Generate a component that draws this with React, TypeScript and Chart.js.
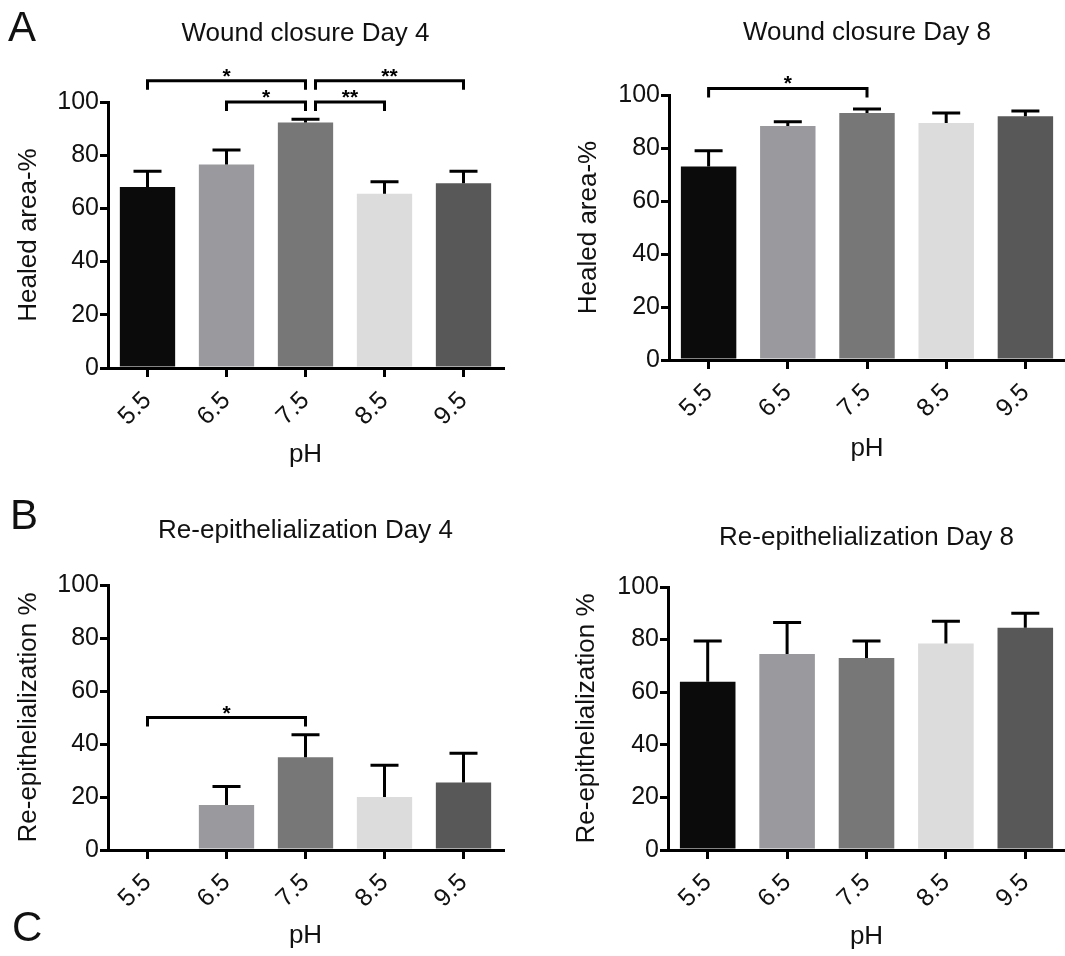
import React, { useEffect, useRef } from "react";
import { Chart, registerables } from "chart.js";

Chart.register(...registerables);

// ---------- data ----------
const categories = ["5.5", "6.5", "7.5", "8.5", "9.5"];
const yTicks = [0, 20, 40, 60, 80, 100];
const barColors = ["#0b0b0b", "#9a9a9e", "#777777", "#dcdcdc", "#585858"];

const woundDay4Mean = [68, 76.5, 92.3, 65.5, 69.5];
const woundDay4Sem = [6, 5.5, 1.2, 4.5, 4.5];
const woundDay8Mean = [73, 88.3, 93.2, 89.4, 92];
const woundDay8Sem = [6, 1.6, 1.5, 3.8, 2];
const reepDay4Mean = [0, 17, 35, 20, 25.5];
const reepDay4Sem = [0, 7, 8.5, 12, 11];
const reepDay8Mean = [64, 74.5, 73, 78.5, 84.5];
const reepDay8Sem = [15.5, 12, 6.5, 8.5, 5.5];

const woundDay4Sig = [
  { from: 0, to: 2, level: 108, label: "*" },
  { from: 1, to: 2, level: 100, label: "*" },
  { from: 2, to: 3, level: 100, label: "**" },
  { from: 2, to: 4, level: 108, label: "**" },
];
const woundDay8Sig = [{ from: 0, to: 2, level: 102.5, label: "*" }];
const reepDay4Sig = [{ from: 0, to: 2, level: 50, label: "*" }];
const reepDay8Sig: { from: number; to: number; level: number; label: string }[] = [];

const panelLetters = [
  { text: "A", left: 8, top: 6 },
  { text: "B", left: 10, top: 494 },
  { text: "C", left: 12, top: 906 },
];

// ---------- layout ----------
const FONT = '"Liberation Sans", Arial, sans-serif';
const FS = 25;
const TFS = 26;
const LH = TFS * 1.2;

type Panel = {
  title: string;
  yTitle: string;
  mean: number[];
  sem: number[];
  sig: { from: number; to: number; level: number; label: string }[];
  box: { x: number; y: number; w: number; h: number };
  area: { left: number; top: number; right: number; bottom: number };
  titleY: number;
  yTitleX: number;
  xTitleY: number;
};

const panels: Panel[] = [
  {
    title: "Wound closure Day 4",
    yTitle: "Healed area-%",
    mean: woundDay4Mean,
    sem: woundDay4Sem,
    sig: woundDay4Sig,
    box: { x: 0, y: 0, w: 530, h: 478 },
    area: { left: 108, top: 102, right: 503, bottom: 368 },
    titleY: 34,
    yTitleX: 29,
    xTitleY: 455,
  },
  {
    title: "Wound closure Day 8",
    yTitle: "Healed area-%",
    mean: woundDay8Mean,
    sem: woundDay8Sem,
    sig: woundDay8Sig,
    box: { x: 530, y: 0, w: 535, h: 478 },
    area: { left: 669, top: 95, right: 1065, bottom: 360 },
    titleY: 33,
    yTitleX: 589,
    xTitleY: 449,
  },
  {
    title: "Re-epithelialization Day 4",
    yTitle: "Re-epithelialization %",
    mean: reepDay4Mean,
    sem: reepDay4Sem,
    sig: reepDay4Sig,
    box: { x: 0, y: 478, w: 530, h: 478 },
    area: { left: 108, top: 585, right: 503, bottom: 850 },
    titleY: 531,
    yTitleX: 29,
    xTitleY: 936,
  },
  {
    title: "Re-epithelialization Day 8",
    yTitle: "Re-epithelialization %",
    mean: reepDay8Mean,
    sem: reepDay8Sem,
    sig: reepDay8Sig,
    box: { x: 530, y: 478, w: 535, h: 478 },
    area: { left: 668, top: 587, right: 1065, bottom: 850 },
    titleY: 538,
    yTitleX: 587,
    xTitleY: 937,
  },
];

function makePlugin(p: Panel) {
  return {
    id: "annot",
    afterDraw(chart: any) {
      const { ctx, chartArea } = chart;
      const xs = chart.scales.x;
      const ys = chart.scales.y;
      ctx.save();
      // error bars (upper only)
      ctx.strokeStyle = "#000";
      ctx.lineWidth = 3;
      p.mean.forEach((m, i) => {
        const e = p.sem[i];
        if (!(e > 0)) return;
        const px = xs.getPixelForValue(i);
        const y0 = ys.getPixelForValue(m);
        const y1 = ys.getPixelForValue(m + e);
        ctx.beginPath();
        ctx.moveTo(px, y0);
        ctx.lineTo(px, y1);
        ctx.moveTo(px - 14, y1);
        ctx.lineTo(px + 14, y1);
        ctx.stroke();
      });
      // significance brackets
      ctx.lineWidth = 3;
      ctx.fillStyle = "#000";
      ctx.font = `bold 21px ${FONT}`;
      ctx.textAlign = "center";
      ctx.textBaseline = "alphabetic";
      p.sig.forEach((s) => {
        const shared = p.sig.some((o) => o !== s && o.to === s.from);
        const x1 = xs.getPixelForValue(s.from) + (shared ? 10 : 0);
        const x2 = xs.getPixelForValue(s.to);
        const yy = ys.getPixelForValue(s.level);
        ctx.beginPath();
        ctx.moveTo(x1, yy + 9);
        ctx.lineTo(x1, yy);
        ctx.lineTo(x2, yy);
        ctx.lineTo(x2, yy + 9);
        ctx.stroke();
        ctx.fillText(s.label, (x1 + x2) / 2, yy + 2);
      });
      // chart title
      ctx.fillStyle = "#111";
      ctx.font = `${TFS}px ${FONT}`;
      ctx.textBaseline = "middle";
      ctx.fillText(p.title, (chartArea.left + chartArea.right) / 2, p.titleY - p.box.y);
      ctx.restore();
    },
  };
}

function PanelChart({ p }: { p: Panel }) {
  const ref = useRef<HTMLCanvasElement>(null);
  useEffect(() => {
    if (!ref.current) return;
    const { box, area } = p;
    const xAxisH = p.xTitleY - area.bottom + LH / 2;
    const chart = new Chart(ref.current, {
      type: "bar",
      data: {
        labels: categories,
        datasets: [
          {
            data: p.mean,
            backgroundColor: barColors,
            borderWidth: 0,
            barPercentage: 0.7,
            categoryPercentage: 1,
          },
        ],
      },
      options: {
        animation: false,
        responsive: false,
        maintainAspectRatio: false,
        devicePixelRatio: 1,
        layout: {
          padding: {
            left: 0,
            top: area.top - box.y,
            right: box.x + box.w - area.right,
            bottom: box.y + box.h - area.bottom - xAxisH,
          },
        },
        plugins: {
          legend: { display: false },
          tooltip: { enabled: false },
          title: { display: false },
        },
        scales: {
          x: {
            offset: true,
            grid: {
              display: true,
              offset: false,
              drawOnChartArea: false,
              drawTicks: true,
              tickLength: 9,
              tickWidth: 3,
              tickColor: "#000",
              lineWidth: 3,
              color: "#000",
            },
            border: { display: true, color: "#000", width: 3 },
            ticks: {
              maxRotation: 45,
              minRotation: 45,
              color: "#111",
              font: { family: FONT, size: FS },
              padding: 9,
            },
            title: {
              display: true,
              text: "pH",
              color: "#111",
              font: { family: FONT, size: TFS },
              padding: { top: 0, bottom: 0 },
            },
            afterFit: (s: any) => {
              s.height = xAxisH;
            },
          },
          y: {
            min: 0,
            max: 100,
            afterBuildTicks: (s: any) => {
              s.ticks = yTicks.map((v) => ({ value: v }));
            },
            grid: {
              display: true,
              drawOnChartArea: false,
              drawTicks: true,
              tickLength: 8,
              tickWidth: 3,
              tickColor: "#000",
              lineWidth: 3,
              color: "#000",
            },
            border: { display: true, color: "#000", width: 3 },
            ticks: {
              color: "#111",
              font: { family: FONT, size: FS },
              padding: 1,
            },
            title: {
              display: true,
              text: p.yTitle,
              color: "#111",
              font: { family: FONT, size: TFS },
              padding: { top: p.yTitleX - box.x - LH / 2, bottom: 0 },
            },
            afterFit: (s: any) => {
              s.width = area.left - box.x;
            },
          },
        },
      },
      plugins: [makePlugin(p)],
    } as any);
    return () => chart.destroy();
  }, [p]);
  return (
    <canvas
      ref={ref}
      width={p.box.w}
      height={p.box.h}
      style={{
        position: "absolute",
        left: p.box.x,
        top: p.box.y,
        width: p.box.w,
        height: p.box.h,
      }}
    />
  );
}

export default function App() {
  return (
    <div
      style={{
        position: "absolute",
        left: 0,
        top: 0,
        width: 1065,
        height: 956,
        background: "#fff",
        overflow: "hidden",
      }}
    >
      {panels.map((p, i) => (
        <PanelChart key={i} p={p} />
      ))}
      {panelLetters.map((l) => (
        <div
          key={l.text}
          style={{
            position: "absolute",
            left: l.left,
            top: l.top,
            fontFamily: FONT,
            fontSize: 42,
            lineHeight: "42px",
            color: "#111",
          }}
        >
          {l.text}
        </div>
      ))}
    </div>
  );
}
